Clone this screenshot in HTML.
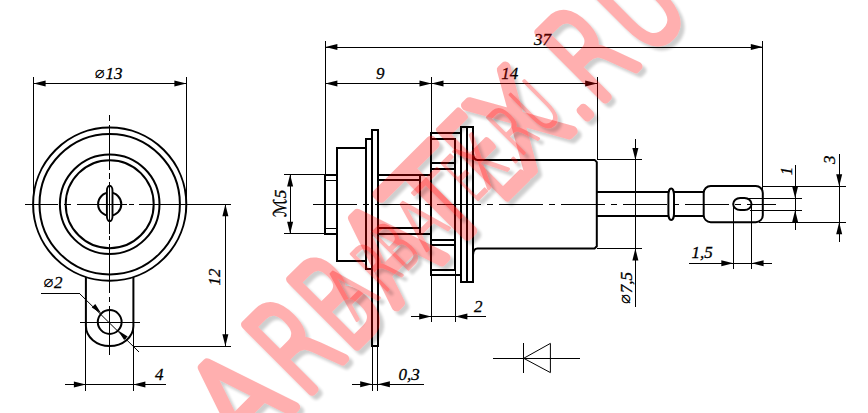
<!DOCTYPE html>
<html lang="ru">
<head>
<meta charset="utf-8">
<title>ARBATEX.RU</title>
<style>
html,body{margin:0;padding:0;background:#fff;}
body{width:868px;height:413px;overflow:hidden;position:relative;}
svg{position:absolute;left:0;top:0;display:block;}
.d line,.d path,.d circle,.d rect{stroke:#000;fill:none;}
.t text{font-family:"Liberation Serif",serif;font-style:italic;fill:#000;stroke:#000;stroke-width:0.3px;}
.wm text{font-family:"DejaVu Sans Light","DejaVu Sans","Liberation Sans",sans-serif;font-weight:200;}
</style>
</head>
<body>
<svg width="868" height="413" viewBox="0 0 868 413">
<defs>
<filter id="sh" x="-10%" y="-10%" width="120%" height="120%">
<feGaussianBlur in="SourceAlpha" stdDeviation="1.8" result="b"/>
<feOffset in="b" dx="3.6" dy="3.6" result="o"/>
<feComponentTransfer in="o" result="s"><feFuncA type="linear" slope="0.62"/></feComponentTransfer>
<feFlood flood-color="#000"/><feComposite in2="s" operator="in" result="sc"/>
<feMerge><feMergeNode in="sc"/><feMergeNode in="SourceGraphic"/></feMerge>
</filter>
</defs>
<rect width="868" height="413" fill="#fff"/>
<g class="d">
<circle cx="109.7" cy="204.2" r="76.6" stroke-width="2.0"/>
<circle cx="109.7" cy="204.2" r="70.2" stroke-width="2.0"/>
<circle cx="109.7" cy="204.2" r="49.8" stroke-width="2.0"/>
<circle cx="109.7" cy="204.2" r="44.0" stroke-width="2.0"/>
<circle cx="109.7" cy="204.2" r="11.6" stroke-width="2.0"/>
<rect x="106.9" y="185.8" width="5.6" height="35.4" rx="2.8" ry="5" stroke-width="1.9" style="fill:#fff"/>
<path d="M85.9,277.01 L85.9,326 A23.75,20 0 0 0 133.4,326 L133.4,277.01" stroke-width="2.0"/>
<circle cx="109.7" cy="322.0" r="11.9" stroke-width="2.0"/>
<line x1="109.7" y1="114.5" x2="109.7" y2="120.5" stroke-width="1.0" shape-rendering="crispEdges"/>
<line x1="109.7" y1="125.4" x2="109.7" y2="169.5" stroke-width="1.0" shape-rendering="crispEdges"/>
<line x1="109.7" y1="172.6" x2="109.7" y2="178.9" stroke-width="1.0" shape-rendering="crispEdges"/>
<line x1="109.7" y1="182" x2="109.7" y2="234" stroke-width="1.0" shape-rendering="crispEdges"/>
<line x1="109.7" y1="236" x2="109.7" y2="240" stroke-width="1.0" shape-rendering="crispEdges"/>
<line x1="109.7" y1="244" x2="109.7" y2="293" stroke-width="1.0" shape-rendering="crispEdges"/>
<line x1="109.7" y1="297" x2="109.7" y2="302" stroke-width="1.0" shape-rendering="crispEdges"/>
<line x1="109.7" y1="306" x2="109.7" y2="355" stroke-width="1.0" shape-rendering="crispEdges"/>
<line x1="24.6" y1="204.2" x2="58.1" y2="204.2" stroke-width="1.0" shape-rendering="crispEdges"/>
<line x1="63.7" y1="204.2" x2="71.3" y2="204.2" stroke-width="1.0" shape-rendering="crispEdges"/>
<line x1="77.1" y1="204.2" x2="126.5" y2="204.2" stroke-width="1.0" shape-rendering="crispEdges"/>
<line x1="129" y1="204.2" x2="133.6" y2="204.2" stroke-width="1.0" shape-rendering="crispEdges"/>
<line x1="139.2" y1="204.2" x2="231" y2="204.2" stroke-width="1.0" shape-rendering="crispEdges"/>
<line x1="80" y1="322.0" x2="140" y2="322.0" stroke-width="1.0" shape-rendering="crispEdges"/>
<line x1="33.6" y1="76.5" x2="33.6" y2="204.2" stroke-width="1.0" shape-rendering="crispEdges"/>
<line x1="186.4" y1="76.5" x2="186.4" y2="204.2" stroke-width="1.0" shape-rendering="crispEdges"/>
<line x1="33.6" y1="83.5" x2="186.4" y2="83.5" stroke-width="1.0" shape-rendering="crispEdges"/>
<polygon points="33.60,83.50 45.60,80.50 45.60,86.50" fill="#000" stroke="none"/>
<polygon points="186.40,83.50 174.40,86.50 174.40,80.50" fill="#000" stroke="none"/>
<line x1="41.3" y1="293.5" x2="79.5" y2="293.5" stroke-width="1.0" shape-rendering="crispEdges"/>
<line x1="79.5" y1="293.5" x2="139" y2="352" stroke-width="1.0"/>
<polygon points="101.29,313.59 91.74,307.58 95.28,304.04" fill="#000" stroke="none"/>
<polygon points="118.11,330.41 127.66,336.42 124.12,339.96" fill="#000" stroke="none"/>
<line x1="133.4" y1="346.2" x2="231" y2="346.2" stroke-width="1.0" shape-rendering="crispEdges"/>
<line x1="225.4" y1="204.2" x2="225.4" y2="346.2" stroke-width="1.0" shape-rendering="crispEdges"/>
<polygon points="225.40,204.20 228.40,216.20 222.40,216.20" fill="#000" stroke="none"/>
<polygon points="225.40,346.20 222.40,334.20 228.40,334.20" fill="#000" stroke="none"/>
<line x1="85.9" y1="326" x2="85.9" y2="390.5" stroke-width="1.0" shape-rendering="crispEdges"/>
<line x1="133.4" y1="326" x2="133.4" y2="390.5" stroke-width="1.0" shape-rendering="crispEdges"/>
<line x1="65.3" y1="384.4" x2="166" y2="384.4" stroke-width="1.0" shape-rendering="crispEdges"/>
<polygon points="85.90,384.40 73.90,387.40 73.90,381.40" fill="#000" stroke="none"/>
<polygon points="133.40,384.40 145.40,381.40 145.40,387.40" fill="#000" stroke="none"/>
<rect x="325.3" y="174.60" width="11.50" height="59.20" stroke-width="2.0" shape-rendering="crispEdges"/>
<line x1="325.3" y1="180.39999999999998" x2="336.8" y2="180.39999999999998" stroke-width="1.0" shape-rendering="crispEdges"/>
<line x1="325.3" y1="228.0" x2="336.8" y2="228.0" stroke-width="1.0" shape-rendering="crispEdges"/>
<rect x="336.8" y="147.80" width="29.20" height="112.80" stroke-width="2.0" shape-rendering="crispEdges"/>
<rect x="366.0" y="139.20" width="5.90" height="130.00" stroke-width="2.0" shape-rendering="crispEdges"/>
<path d="M371.9,345.5 L371.9,129.9 L377.9,129.9 L377.9,345.5 Z" stroke-width="2.0" shape-rendering="crispEdges"/>
<line x1="377.9" y1="174.6" x2="431.2" y2="174.6" stroke-width="2.0" shape-rendering="crispEdges"/>
<line x1="377.9" y1="233.79999999999998" x2="431.2" y2="233.79999999999998" stroke-width="2.0" shape-rendering="crispEdges"/>
<line x1="377.9" y1="180.39999999999998" x2="419.8" y2="180.39999999999998" stroke-width="2.0" shape-rendering="crispEdges"/>
<line x1="377.9" y1="228.0" x2="419.8" y2="228.0" stroke-width="2.0" shape-rendering="crispEdges"/>
<line x1="419.8" y1="174.6" x2="419.8" y2="233.79999999999998" stroke-width="2.0" shape-rendering="crispEdges"/>
<path d="M461.3,133.39999999999998 L431.2,133.39999999999998 L431.2,275.0 L461.3,275.0" stroke-width="2.0" shape-rendering="crispEdges"/>
<path d="M431.2,138.89999999999998 L455.2,138.89999999999998 L455.2,163.0 L431.2,163.0" stroke-width="2.0" shape-rendering="crispEdges"/>
<path d="M431.2,168.6 L455.2,168.6 L455.2,163.0" stroke-width="2.0" shape-rendering="crispEdges"/>
<path d="M431.2,269.5 L455.2,269.5 L455.2,245.39999999999998 L431.2,245.39999999999998" stroke-width="2.0" shape-rendering="crispEdges"/>
<path d="M431.2,239.79999999999998 L455.2,239.79999999999998 L455.2,245.39999999999998" stroke-width="2.0" shape-rendering="crispEdges"/>
<line x1="455.2" y1="168.6" x2="455.2" y2="239.79999999999998" stroke-width="2.0" shape-rendering="crispEdges"/>
<rect x="461.3" y="126.90" width="5.90" height="154.60" stroke-width="2.0" shape-rendering="crispEdges"/>
<rect x="467.2" y="126.90" width="5.90" height="154.60" stroke-width="2.0" shape-rendering="crispEdges"/>
<path d="M473.1,153.89999999999998 Q473.4,159.89999999999998 477.5,159.89999999999998 L594.6,159.89999999999998 L596.8,162.09999999999997 L596.8,246.3 L594.6,248.5 L477.5,248.5 Q473.4,248.5 473.1,254.5" stroke-width="2.0"/>
<line x1="596.8" y1="192.0" x2="668.4" y2="192.0" stroke-width="2.0" shape-rendering="crispEdges"/>
<line x1="596.8" y1="216.39999999999998" x2="668.4" y2="216.39999999999998" stroke-width="2.0" shape-rendering="crispEdges"/>
<rect x="668.4" y="188.39999999999998" width="5.6" height="31.6" rx="2.8" ry="6.5" stroke-width="2.0" style="fill:#fff"/>
<line x1="674.0" y1="192.0" x2="703.7" y2="192.0" stroke-width="2.0" shape-rendering="crispEdges"/>
<line x1="674.0" y1="216.39999999999998" x2="703.7" y2="216.39999999999998" stroke-width="2.0" shape-rendering="crispEdges"/>
<rect x="703.7" y="185.9" width="59.1" height="36.3" rx="7" ry="7" stroke-width="2.0"/>
<rect x="733.2" y="197.9" width="18.3" height="12.2" rx="7" ry="6.1" stroke-width="2.0"/>
<line x1="313.2" y1="204.2" x2="356.7" y2="204.2" stroke-width="1.0" shape-rendering="crispEdges"/>
<line x1="362.7" y1="204.2" x2="369.2" y2="204.2" stroke-width="1.0" shape-rendering="crispEdges"/>
<line x1="375.2" y1="204.2" x2="418.7" y2="204.2" stroke-width="1.0" shape-rendering="crispEdges"/>
<line x1="424.7" y1="204.2" x2="431.2" y2="204.2" stroke-width="1.0" shape-rendering="crispEdges"/>
<line x1="437.2" y1="204.2" x2="480.7" y2="204.2" stroke-width="1.0" shape-rendering="crispEdges"/>
<line x1="486.7" y1="204.2" x2="493.2" y2="204.2" stroke-width="1.0" shape-rendering="crispEdges"/>
<line x1="499.2" y1="204.2" x2="542.7" y2="204.2" stroke-width="1.0" shape-rendering="crispEdges"/>
<line x1="548.7" y1="204.2" x2="555.2" y2="204.2" stroke-width="1.0" shape-rendering="crispEdges"/>
<line x1="561.2" y1="204.2" x2="604.7" y2="204.2" stroke-width="1.0" shape-rendering="crispEdges"/>
<line x1="610.7" y1="204.2" x2="617.2" y2="204.2" stroke-width="1.0" shape-rendering="crispEdges"/>
<line x1="623.2" y1="204.2" x2="666.7" y2="204.2" stroke-width="1.0" shape-rendering="crispEdges"/>
<line x1="672.7" y1="204.2" x2="679.2" y2="204.2" stroke-width="1.0" shape-rendering="crispEdges"/>
<line x1="685.2" y1="204.2" x2="728.7" y2="204.2" stroke-width="1.0" shape-rendering="crispEdges"/>
<line x1="734.7" y1="204.2" x2="741.2" y2="204.2" stroke-width="1.0" shape-rendering="crispEdges"/>
<line x1="747.2" y1="204.2" x2="776" y2="204.2" stroke-width="1.0" shape-rendering="crispEdges"/>
<line x1="325.4" y1="41.3" x2="325.4" y2="174.6" stroke-width="1.0" shape-rendering="crispEdges"/>
<line x1="431.5" y1="77.4" x2="431.5" y2="133.39999999999998" stroke-width="1.0" shape-rendering="crispEdges"/>
<line x1="597.2" y1="77.4" x2="597.2" y2="159.89999999999998" stroke-width="1.0" shape-rendering="crispEdges"/>
<line x1="762.8" y1="41.3" x2="762.8" y2="190" stroke-width="1.0" shape-rendering="crispEdges"/>
<line x1="325.4" y1="47.1" x2="762.8" y2="47.1" stroke-width="1.0" shape-rendering="crispEdges"/>
<polygon points="325.40,47.10 337.40,44.10 337.40,50.10" fill="#000" stroke="none"/>
<polygon points="762.80,47.10 750.80,50.10 750.80,44.10" fill="#000" stroke="none"/>
<line x1="325.4" y1="83.4" x2="597.2" y2="83.4" stroke-width="1.0" shape-rendering="crispEdges"/>
<polygon points="325.40,83.40 337.40,80.40 337.40,86.40" fill="#000" stroke="none"/>
<polygon points="431.50,83.40 419.50,86.40 419.50,80.40" fill="#000" stroke="none"/>
<polygon points="431.50,83.40 443.50,80.40 443.50,86.40" fill="#000" stroke="none"/>
<polygon points="597.20,83.40 585.20,86.40 585.20,80.40" fill="#000" stroke="none"/>
<line x1="284.3" y1="174.6" x2="325.3" y2="174.6" stroke-width="1.0" shape-rendering="crispEdges"/>
<line x1="284.3" y1="233.79999999999998" x2="325.3" y2="233.79999999999998" stroke-width="1.0" shape-rendering="crispEdges"/>
<line x1="290.1" y1="174.6" x2="290.1" y2="233.79999999999998" stroke-width="1.0" shape-rendering="crispEdges"/>
<polygon points="290.10,174.60 293.10,186.60 287.10,186.60" fill="#000" stroke="none"/>
<polygon points="290.10,233.80 287.10,221.80 293.10,221.80" fill="#000" stroke="none"/>
<line x1="372.2" y1="345.5" x2="372.2" y2="390.8" stroke-width="1.0" shape-rendering="crispEdges"/>
<line x1="377.9" y1="345.5" x2="377.9" y2="390.8" stroke-width="1.0" shape-rendering="crispEdges"/>
<line x1="352.3" y1="384.3" x2="424" y2="384.3" stroke-width="1.0" shape-rendering="crispEdges"/>
<polygon points="372.20,384.30 360.20,387.30 360.20,381.30" fill="#000" stroke="none"/>
<polygon points="377.90,384.30 389.90,381.30 389.90,387.30" fill="#000" stroke="none"/>
<line x1="431.2" y1="275.0" x2="431.2" y2="322.3" stroke-width="1.0" shape-rendering="crispEdges"/>
<line x1="455.4" y1="269.5" x2="455.4" y2="322.3" stroke-width="1.0" shape-rendering="crispEdges"/>
<line x1="411" y1="316.5" x2="486.2" y2="316.5" stroke-width="1.0" shape-rendering="crispEdges"/>
<polygon points="431.20,316.50 419.20,319.50 419.20,313.50" fill="#000" stroke="none"/>
<polygon points="455.40,316.50 467.40,313.50 467.40,319.50" fill="#000" stroke="none"/>
<line x1="596.8" y1="159.89999999999998" x2="641.6" y2="159.89999999999998" stroke-width="1.0" shape-rendering="crispEdges"/>
<line x1="596.8" y1="248.5" x2="641.6" y2="248.5" stroke-width="1.0" shape-rendering="crispEdges"/>
<line x1="635.4" y1="139.4" x2="635.4" y2="306.9" stroke-width="1.0" shape-rendering="crispEdges"/>
<polygon points="635.40,159.90 632.40,147.90 638.40,147.90" fill="#000" stroke="none"/>
<polygon points="635.40,248.50 638.40,260.50 632.40,260.50" fill="#000" stroke="none"/>
<line x1="733.3" y1="204" x2="733.3" y2="269.3" stroke-width="1.0" shape-rendering="crispEdges"/>
<line x1="751.6" y1="204" x2="751.6" y2="269.3" stroke-width="1.0" shape-rendering="crispEdges"/>
<line x1="688.7" y1="263.3" x2="772.2" y2="263.3" stroke-width="1.0" shape-rendering="crispEdges"/>
<polygon points="733.30,263.30 721.30,266.30 721.30,260.30" fill="#000" stroke="none"/>
<polygon points="751.60,263.30 763.60,260.30 763.60,266.30" fill="#000" stroke="none"/>
<line x1="762.8" y1="186.2" x2="846.4" y2="186.2" stroke-width="1.0" shape-rendering="crispEdges"/>
<line x1="759" y1="222.2" x2="846.4" y2="222.2" stroke-width="1.0" shape-rendering="crispEdges"/>
<line x1="747" y1="198.2" x2="801.6" y2="198.2" stroke-width="1.0" shape-rendering="crispEdges"/>
<line x1="750" y1="210.2" x2="801.6" y2="210.2" stroke-width="1.0" shape-rendering="crispEdges"/>
<line x1="795.1" y1="165" x2="795.1" y2="229.9" stroke-width="1.0" shape-rendering="crispEdges"/>
<polygon points="795.10,198.20 792.10,186.20 798.10,186.20" fill="#000" stroke="none"/>
<polygon points="795.10,210.20 798.10,222.20 792.10,222.20" fill="#000" stroke="none"/>
<line x1="839.2" y1="153.6" x2="839.2" y2="242" stroke-width="1.0" shape-rendering="crispEdges"/>
<polygon points="839.20,186.20 836.20,174.20 842.20,174.20" fill="#000" stroke="none"/>
<polygon points="839.20,222.20 842.20,234.20 836.20,234.20" fill="#000" stroke="none"/>
<line x1="493" y1="358.3" x2="580.2" y2="358.3" stroke-width="1.0" shape-rendering="crispEdges"/>
<line x1="523.7" y1="343.4" x2="523.7" y2="372.6" stroke-width="1.0" shape-rendering="crispEdges"/>
<path d="M523.7,358.3 L550.4,343.4 L550.4,372.6 Z" stroke-width="1"/>
</g>
<g class="t">
<text x="108.7" y="79" font-size="17" text-anchor="middle" font-weight="normal" ><tspan font-family="DejaVu Sans, sans-serif" font-style="normal" font-size="16.5" dy="-1.3" stroke="none">⌀</tspan><tspan dy="1.3" dx="0.8">13</tspan></text>
<text x="53" y="288.3" font-size="17" text-anchor="middle" font-weight="normal" ><tspan font-family="DejaVu Sans, sans-serif" font-style="normal" font-size="16.5" dy="-1.3" stroke="none">⌀</tspan><tspan dy="1.3" dx="0.8">2</tspan></text>
<text x="159.3" y="379.6" font-size="17" text-anchor="middle" font-weight="normal" >4</text>
<text x="220.2" y="277" font-size="17" text-anchor="middle" font-weight="normal" transform="rotate(-90 220.2 277)" >12</text>
<text x="380.2" y="79.3" font-size="17" text-anchor="middle" font-weight="normal" >9</text>
<text x="509.8" y="79" font-size="17" text-anchor="middle" font-weight="normal" >14</text>
<text x="542.5" y="45.3" font-size="17" text-anchor="middle" font-weight="normal" >37</text>
<text x="286.2" y="203.5" font-size="17" text-anchor="middle" font-weight="normal" transform="rotate(-90 286.2 203.5)" ><tspan font-family="DejaVu Sans, sans-serif" font-style="normal" font-size="18">ℳ</tspan>5</text>
<text x="409" y="380" font-size="17" text-anchor="middle" font-weight="normal" >0,3</text>
<text x="478.2" y="311.6" font-size="17" text-anchor="middle" font-weight="normal" >2</text>
<text x="702" y="258.2" font-size="17" text-anchor="middle" font-weight="normal" >1,5</text>
<text x="631.6" y="288" font-size="17" text-anchor="middle" font-weight="normal" transform="rotate(-90 631.6 288)" ><tspan font-family="DejaVu Sans, sans-serif" font-style="normal" font-size="16.5" dy="-1.3" stroke="none">⌀</tspan><tspan dy="1.3" dx="0.8">7,5</tspan></text>
<text x="792" y="171" font-size="17" text-anchor="middle" font-weight="normal" transform="rotate(-90 792 171)" >1</text>
<text x="834.8" y="159.7" font-size="17" text-anchor="middle" font-weight="normal" transform="rotate(-90 834.8 159.7)" >3</text>
</g>
<g class="wm">
<g opacity="0.31"><g filter="url(#sh)"><text transform="translate(243.6 458.6) rotate(-44.9) scale(0.7447 1)" y="0" font-size="127.6" fill="#f00" stroke="#f00" stroke-width="10.00" stroke-linejoin="round" stroke-linecap="round" vector-effect="non-scaling-stroke"><tspan x="0.0" textLength="103.6" lengthAdjust="spacingAndGlyphs">A</tspan><tspan x="112.4" textLength="86.0" lengthAdjust="spacingAndGlyphs">R</tspan><tspan x="199.1" textLength="75.2" lengthAdjust="spacingAndGlyphs">B</tspan><tspan x="284.7" textLength="103.6" lengthAdjust="spacingAndGlyphs">A</tspan><tspan x="374.1" textLength="109.1" lengthAdjust="spacingAndGlyphs">T</tspan><tspan x="485.4" textLength="58.6" lengthAdjust="spacingAndGlyphs">E</tspan><tspan x="532.4" textLength="100.1" lengthAdjust="spacingAndGlyphs">X</tspan><tspan x="632.9" textLength="40.6" lengthAdjust="spacingAndGlyphs">.</tspan><tspan x="668.4" textLength="86.0" lengthAdjust="spacingAndGlyphs">R</tspan><tspan x="761.9" textLength="88.7" lengthAdjust="spacingAndGlyphs">U</tspan></text></g></g>
<g opacity="0.3"><g filter="url(#sh)"><text transform="translate(355.6 321.8) rotate(-45.0) scale(0.3470 0.55)" y="0" font-size="127.6" fill="#f00" stroke="#f00" stroke-width="5.08" stroke-linejoin="round" stroke-linecap="round" vector-effect="non-scaling-stroke"><tspan x="0.0" textLength="103.6" lengthAdjust="spacingAndGlyphs">A</tspan><tspan x="112.4" textLength="86.0" lengthAdjust="spacingAndGlyphs">R</tspan><tspan x="199.1" textLength="75.2" lengthAdjust="spacingAndGlyphs">B</tspan><tspan x="284.7" textLength="103.6" lengthAdjust="spacingAndGlyphs">A</tspan><tspan x="374.1" textLength="109.1" lengthAdjust="spacingAndGlyphs">T</tspan><tspan x="485.4" textLength="58.6" lengthAdjust="spacingAndGlyphs">E</tspan><tspan x="532.4" textLength="100.1" lengthAdjust="spacingAndGlyphs">X</tspan><tspan x="632.9" textLength="40.6" lengthAdjust="spacingAndGlyphs">.</tspan><tspan x="668.4" textLength="86.0" lengthAdjust="spacingAndGlyphs">R</tspan><tspan x="761.9" textLength="88.7" lengthAdjust="spacingAndGlyphs">U</tspan></text></g></g>
</g>
</svg>
</body>
</html>
